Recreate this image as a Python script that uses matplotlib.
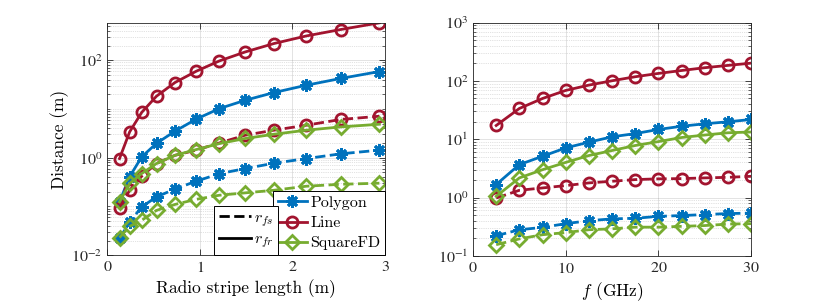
import matplotlib
matplotlib.use('Agg')
import matplotlib.pyplot as plt
import numpy as np
from matplotlib.ticker import FixedLocator, FuncFormatter, NullFormatter
from matplotlib.lines import Line2D

# ---------------- data ----------------
stripe_len = [0.13, 0.24, 0.37, 0.53, 0.73, 0.96, 1.21, 1.49, 1.80, 2.15, 2.52, 2.94]
poly_fr_len = [0.124, 0.41, 1.04, 1.97, 3.5, 6.2, 10.2, 15.1, 21.7, 30.7, 42.2, 58.6]
poly_fs_len = [0.022, 0.048, 0.098, 0.157, 0.228, 0.33, 0.47, 0.60, 0.77, 0.96, 1.2, 1.43]
line_fr_len = [0.96, 3.4, 8.5, 18.3, 34.9, 59.5, 96.8, 148, 220, 315, 426, 585]
line_fs_len = [0.095, 0.215, 0.418, 0.76, 1.12, 1.43, 2.01, 2.9, 3.67, 4.64, 6.08, 7.1]
sq_fr_len = [0.124, 0.296, 0.474, 0.76, 1.12, 1.47, 1.95, 2.48, 3.03, 3.67, 4.28, 4.86]
sq_fs_len = [0.023, 0.039, 0.052, 0.083, 0.11, 0.14, 0.17, 0.19, 0.215, 0.26, 0.285, 0.30]

freq = [2.5, 5, 7.5, 10, 12.5, 15, 17.5, 20, 22.5, 25, 27.5, 30]
poly_fr_f = [1.67, 3.67, 5.1, 7.1, 8.9, 11.0, 12.5, 14.7, 16.7, 18.4, 19.9, 21.8]
poly_fs_f = [0.221, 0.28, 0.307, 0.356, 0.40, 0.43, 0.44, 0.475, 0.49, 0.51, 0.53, 0.54]
line_fr_f = [17.2, 33.7, 50, 68.7, 84.8, 100.7, 118, 134.5, 151, 168.6, 184.7, 202]
line_fs_f = [0.98, 1.33, 1.46, 1.6, 1.78, 1.9, 2.03, 2.09, 2.11, 2.17, 2.22, 2.31]
sq_fr_f = [1.05, 2.17, 3.0, 4.0, 5.25, 6.4, 7.8, 9.1, 10.7, 11.8, 12.9, 13.3]
sq_fs_f = [0.155, 0.195, 0.23, 0.25, 0.28, 0.29, 0.31, 0.31, 0.32, 0.33, 0.35, 0.356]

series_names = ['Polygon', 'Line', 'SquareFD']
style_names = [r'$r_{fs}$', r'$r_{fr}$']

# ---------------- style ----------------
plt.rcParams['font.family'] = 'serif'
plt.rcParams['font.serif'] = ['cmr10', 'DejaVu Serif']
plt.rcParams['mathtext.fontset'] = 'stix'
plt.rcParams['axes.unicode_minus'] = False
plt.rcParams['axes.formatter.use_mathtext'] = True

BLUE = '#0072BD'
RED = '#A2142F'
GREEN = '#77AC30'
EDGE = '#262626'
LW = 2.0
MEW = 2.0
styles = {
    'Polygon': dict(color=BLUE, marker=(8, 2, 0), ms=9, mew=MEW),
    'Line': dict(color=RED, marker='o', ms=8, mew=MEW, mfc='none'),
    'SquareFD': dict(color=GREEN, marker='D', ms=7, mew=MEW, mfc='none'),
}

fig = plt.figure(figsize=(8.3, 3.02), dpi=100)
axL = fig.add_axes([0.1295, 0.155, 0.3343, 0.770])
axR = fig.add_axes([0.5699, 0.153, 0.3350, 0.772])


def style_axis(ax, major_y, minor_y, xticks):
    ax.set_yscale('log')
    ax.yaxis.set_major_locator(FixedLocator(major_y))
    ax.yaxis.set_minor_locator(FixedLocator(minor_y))
    ax.yaxis.set_minor_formatter(NullFormatter())
    ax.yaxis.set_major_formatter(FuncFormatter(lambda v, p: r'$10^{%d}$' % int(round(np.log10(v)))))
    ax.set_xticks(xticks)
    ax.xaxis.set_major_formatter(FuncFormatter(lambda v, p: r'$%g$' % v))
    ax.tick_params(which='both', direction='in', top=True, right=True, colors=EDGE,
                   labelcolor='#262626', labelsize=11.5)
    ax.tick_params(which='major', length=4, width=0.6)
    ax.tick_params(which='minor', length=2, width=0.5)
    for s in ax.spines.values():
        s.set_color(EDGE)
        s.set_linewidth(0.6)
    ax.grid(True, which='major', color='#262626', alpha=0.15, lw=0.6, ls='-')
    ax.yaxis.grid(True, which='minor', color='#1a1a1a', alpha=0.25, lw=0.5, ls=':')
    ax.set_axisbelow(True)


def minor_ticks(lo_exp, hi_exp, include_decades):
    out = []
    for e in range(lo_exp, hi_exp + 1):
        for k in range(1, 10):
            if k == 1 and not (e in include_decades):
                continue
            out.append(k * 10.0 ** e)
    return out


# ---------------- left panel ----------------
left_data = {
    'Polygon': (poly_fs_len, poly_fr_len),
    'Line': (line_fs_len, line_fr_len),
    'SquareFD': (sq_fs_len, sq_fr_len),
}
for name in series_names:
    fs, fr = left_data[name]
    st = styles[name]
    axL.plot(stripe_len, fr, ls='-', lw=LW, mec=st['color'], **st)
    axL.plot(stripe_len, fs, ls='--', lw=LW, mec=st['color'], **st)

style_axis(axL, [1e-2, 1e0, 1e2], minor_ticks(-2, 2, [-1, 1]), [0, 1, 2, 3])
axL.set_xlim(0, 3)
axL.set_ylim(1e-2, 590)
axL.set_xlabel('Radio stripe length (m)', fontsize=12.5, labelpad=3)
axL.set_ylabel('Distance (m)', fontsize=12.5, labelpad=2)

handles1 = [Line2D([], [], ls='-', lw=LW, mec=styles[n]['color'], **styles[n]) for n in series_names]
leg1 = axL.legend(handles1, series_names, loc='lower right', fontsize=11.5,
                  frameon=True, fancybox=False, framealpha=1, edgecolor='#000000',
                  borderaxespad=0, borderpad=0.3, labelspacing=0.38,
                  handlelength=1.8, handletextpad=0.2)
leg1.get_frame().set_linewidth(0.7)
axL.add_artist(leg1)

handles2 = [Line2D([], [], color='black', lw=LW, ls='--'), Line2D([], [], color='black', lw=LW, ls='-')]
leg2 = axL.legend(handles2, style_names, loc='lower right', bbox_to_anchor=(0.615, 0.0),
                  fontsize=11.5, frameon=True, fancybox=False, framealpha=1,
                  edgecolor='#000000', borderaxespad=0, borderpad=0.3, labelspacing=0.25,
                  handlelength=2.0, handletextpad=0.2)
leg2.get_frame().set_linewidth(0.7)
for t in leg2.get_texts():
    t.set_math_fontfamily('cm')

# ---------------- right panel ----------------
right_data = {
    'Polygon': (poly_fs_f, poly_fr_f),
    'Line': (line_fs_f, line_fr_f),
    'SquareFD': (sq_fs_f, sq_fr_f),
}
for name in series_names:
    fs, fr = right_data[name]
    st = styles[name]
    axR.plot(freq, fr, ls='-', lw=LW, mec=st['color'], **st)
    axR.plot(freq, fs, ls='--', lw=LW, mec=st['color'], **st)

style_axis(axR, [1e-1, 1e0, 1e1, 1e2, 1e3], minor_ticks(-1, 2, []), [0, 10, 20, 30])
axR.set_xlim(0, 30)
axR.set_ylim(1e-1, 1e3)
axR.set_xlabel(r'$f$ (GHz)', fontsize=12.5, labelpad=3, math_fontfamily='cm')

fig.savefig('out.png', dpi=100)
